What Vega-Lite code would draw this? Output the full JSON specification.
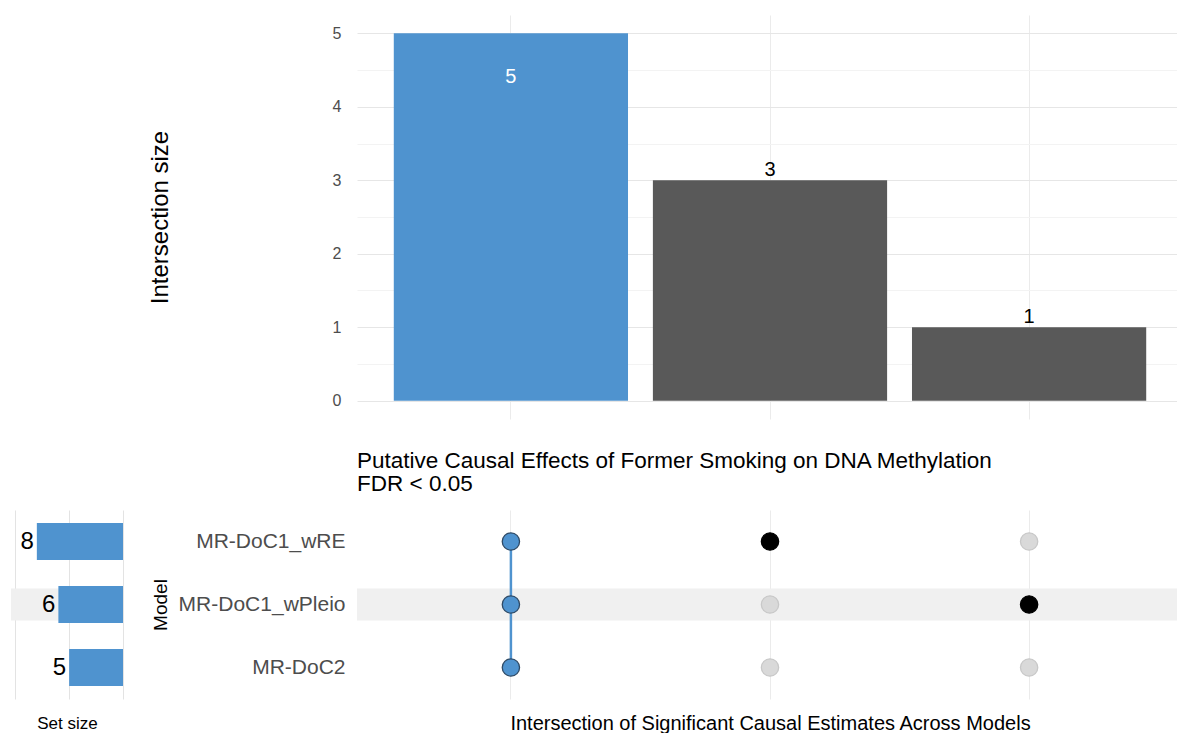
{
  "$schema": "https://vega.github.io/schema/vega-lite/v6.json",
  "background": "white",
  "padding": {"left": 10, "top": 14, "right": 0, "bottom": 0},
  "config": {"view": {"stroke": null}, "font": "Liberation Sans"},
  "datasets": {
    "inter": [
      {"id": "I1", "size": 5, "group": "all"},
      {"id": "I2", "size": 3, "group": "other"},
      {"id": "I3", "size": 1, "group": "other"}
    ],
    "sets": [
      {"model": "MR-DoC1_wRE", "size": 8},
      {"model": "MR-DoC1_wPleio", "size": 6},
      {"model": "MR-DoC2", "size": 5}
    ],
    "stripe": [{"model": "MR-DoC1_wPleio"}],
    "matrix": [
      {"id": "I1", "model": "MR-DoC1_wRE", "status": "all"},
      {"id": "I1", "model": "MR-DoC1_wPleio", "status": "all"},
      {"id": "I1", "model": "MR-DoC2", "status": "all"},
      {"id": "I2", "model": "MR-DoC1_wRE", "status": "member"},
      {"id": "I2", "model": "MR-DoC1_wPleio", "status": "none"},
      {"id": "I2", "model": "MR-DoC2", "status": "none"},
      {"id": "I3", "model": "MR-DoC1_wRE", "status": "none"},
      {"id": "I3", "model": "MR-DoC1_wPleio", "status": "member"},
      {"id": "I3", "model": "MR-DoC2", "status": "none"}
    ]
  },
  "resolve": {"scale": {"color": "independent", "stroke": "independent", "fill": "independent"}},
  "columns": 2,
  "align": "each",
  "spacing": {"row": 30, "column": 25},
  "concat": [
    {
      "width": 112,
      "height": 404,
      "data": {"values": [{}]},
      "mark": {"type": "rule", "opacity": 0},
      "encoding": {}
    },
    {
      "width": 826,
      "height": 404,
      "data": {"name": "inter"},
      "encoding": {
        "x": {
          "field": "id", "type": "nominal",
          "scale": {"type": "band", "domain": ["I1", "I2", "I3"], "paddingInner": 0.096, "paddingOuter": 0.142},
          "axis": {"labels": false, "ticks": false, "domain": false, "title": null, "grid": true, "gridColor": "#ebebeb", "bandPosition": 0.5}
        },
        "y": {
          "field": "size", "type": "quantitative",
          "scale": {"domain": [-0.25, 5.25], "nice": false, "zero": false},
          "axis": {
            "values": [0, 0.5, 1, 1.5, 2, 2.5, 3, 3.5, 4, 4.5, 5],
            "labelExpr": "datum.value % 1 === 0 ? format(datum.value, 'd') : ''",
            "grid": true,
            "gridColor": {"condition": {"test": "datum.value % 1 !== 0", "value": "#f3f3f3"}, "value": "#e6e6e6"},
            "ticks": false, "domain": false,
            "labelFontSize": 16, "labelColor": "#4d4d4d", "labelPadding": 16,
            "title": "Intersection size", "titleFontSize": 24, "titleFontWeight": "normal",
            "titleColor": "#000000", "titlePadding": 160
          }
        }
      },
      "layer": [
        {
          "mark": {"type": "bar"},
          "encoding": {
            "color": {"field": "group", "type": "nominal", "scale": {"domain": ["all", "other"], "range": ["#4f93cf", "#595959"]}, "legend": null}
          }
        },
        {
          "transform": [{"filter": "datum.group === 'all'"}],
          "mark": {"type": "text", "color": "white", "fontSize": 20, "baseline": "top", "dy": 34},
          "encoding": {"text": {"field": "size", "type": "quantitative"}}
        },
        {
          "transform": [{"filter": "datum.group !== 'all'"}],
          "mark": {"type": "text", "color": "black", "fontSize": 20, "baseline": "alphabetic", "dy": -4},
          "encoding": {"text": {"field": "size", "type": "quantitative"}}
        }
      ]
    },
    {
      "width": 112,
      "height": 189,
      "encoding": {
        "y": {
          "field": "model", "type": "nominal",
          "scale": {"domain": ["MR-DoC1_wRE", "MR-DoC1_wPleio", "MR-DoC2"], "paddingInner": 0, "paddingOuter": 0},
          "axis": null
        }
      },
      "layer": [
        {
          "data": {"name": "stripe"},
          "mark": {"type": "bar", "color": "#f0f0f0", "height": {"band": 0.51}},
          "encoding": {"x": {"value": 0}, "x2": {"value": "width"}}
        },
        {
          "data": {"name": "sets"},
          "mark": {"type": "bar", "color": "#4f93cf", "height": {"band": 0.59}},
          "encoding": {
            "x": {
              "field": "size", "type": "quantitative",
              "scale": {"domain": [0, 10.4], "reverse": true, "nice": false, "zero": true},
              "axis": {
                "values": [0, 1.25, 2.5, 3.75, 5, 6.25, 7.5, 8.75, 10],
                "labels": false, "ticks": false, "domain": false, "grid": true,
                "gridColor": {"condition": {"test": "datum.value % 2.5 !== 0", "value": "#f0f0f0"}, "value": "#e3e3e3"},
                "title": "Set size", "titleFontSize": 17, "titleFontWeight": "normal",
                "titleColor": "#000000", "titlePadding": 16
              }
            }
          }
        },
        {
          "data": {"name": "sets"},
          "mark": {"type": "text", "align": "right", "baseline": "middle", "dx": -3, "fontSize": 24, "color": "black"},
          "encoding": {
            "x": {"field": "size", "type": "quantitative"},
            "text": {"field": "size", "type": "quantitative"}
          }
        }
      ]
    },
    {
      "width": 826,
      "height": 189,
      "title": {
        "text": ["Putative Causal Effects of Former Smoking on DNA Methylation", "FDR < 0.05"],
        "anchor": "start", "frame": "group", "fontSize": 22.5, "fontWeight": "normal",
        "color": "#000000", "offset": 15, "lineHeight": 23
      },
      "data": {"name": "matrix"},
      "encoding": {
        "x": {
          "field": "id", "type": "nominal",
          "scale": {"type": "band", "domain": ["I1", "I2", "I3"], "paddingInner": 0.096, "paddingOuter": 0.142},
          "axis": {
            "labels": false, "ticks": false, "domain": false, "grid": true, "gridColor": "#ebebeb", "bandPosition": 0.5,
            "title": "Intersection of Significant Causal Estimates Across Models",
            "titleFontSize": 20, "titleFontWeight": "normal", "titleColor": "#000000", "titlePadding": 14
          }
        },
        "y": {
          "field": "model", "type": "nominal",
          "scale": {"type": "band", "domain": ["MR-DoC1_wRE", "MR-DoC1_wPleio", "MR-DoC2"], "paddingInner": 0, "paddingOuter": 0},
          "axis": {
            "title": "Model", "titleFontSize": 19, "titleFontWeight": "normal", "titleColor": "#000000", "titlePadding": 8,
            "labelFontSize": 21, "labelColor": "#4d4d4d", "labelPadding": 12, "labelLimit": 0,
            "ticks": false, "domain": false, "grid": false
          }
        }
      },
      "layer": [
        {
          "data": {"name": "stripe"},
          "mark": {"type": "bar", "color": "#f0f0f0", "height": {"band": 0.51}},
          "encoding": {"x": {"value": 0}, "x2": {"value": "width"}}
        },
        {
          "transform": [{"filter": "datum.status === 'all'"}],
          "mark": {"type": "line", "color": "#4f93cf", "strokeWidth": 2.5},
          "encoding": {"detail": {"field": "id"}}
        },
        {
          "mark": {"type": "point", "shape": "circle", "filled": true, "opacity": 1, "strokeWidth": 1.3},
          "encoding": {
            "size": {"value": 300},
            "fill": {"field": "status", "type": "nominal", "scale": {"domain": ["all", "member", "none"], "range": ["#4f93cf", "#000000", "#d9d9d9"]}, "legend": null},
            "stroke": {"field": "status", "type": "nominal", "scale": {"domain": ["all", "member", "none"], "range": ["#2e4a66", "#000000", "#c8c8c8"]}, "legend": null}
          }
        }
      ]
    }
  ]
}
